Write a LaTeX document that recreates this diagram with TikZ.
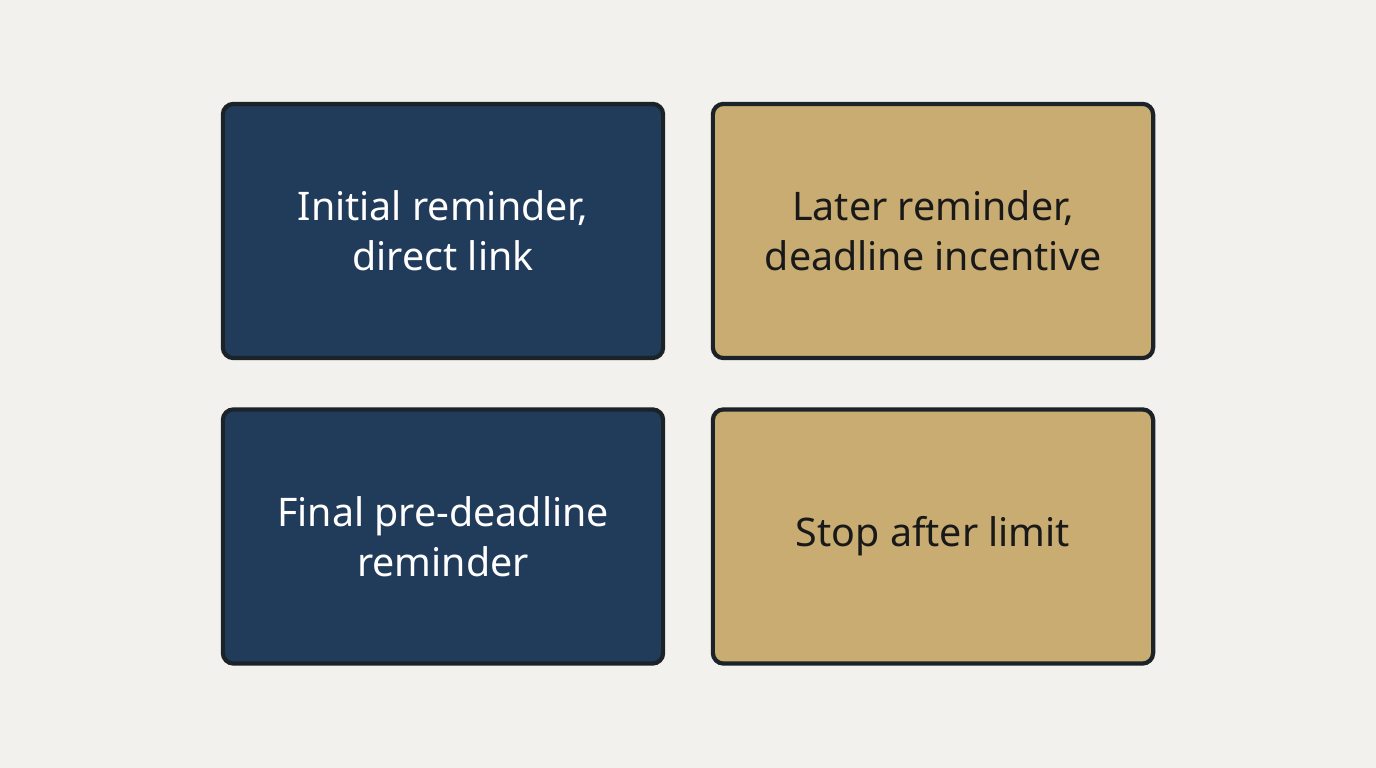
\documentclass[tikz,border=0pt]{standalone}
\usepackage{fontspec}
\setmainfont{Noto Sans}
\definecolor{bg}{HTML}{F2F1EE}
\definecolor{navy}{HTML}{213B5B}
\definecolor{tan}{HTML}{C9AC72}
\definecolor{edge}{HTML}{1B2329}
\begin{document}
\begin{tikzpicture}[x=0.01cm,y=-0.01cm,
 box/.style={draw=edge,line width=1.2pt,rounded corners=3pt,minimum width=4.4cm,minimum height=2.54cm,align=center,font=\fontsize{11.2}{14.2}\selectfont},
 dark/.style={box,fill=navy,text=white},
 light/.style={box,fill=tan,text=black!90}]
\fill[bg] (0,0) rectangle (1376,768);
\useasboundingbox (0,0) rectangle (1376,768);
\node[dark] (a) at (443,231) {Initial reminder,\\direct link};
\node[light] (b) at (933,231) {Later reminder,\\deadline incentive};
\node[dark] (c) at (443,536.5) {Final pre-deadline\\reminder};
\node[light] (d) at (933,536.5) {Stop after limit};
\end{tikzpicture}
\end{document}
